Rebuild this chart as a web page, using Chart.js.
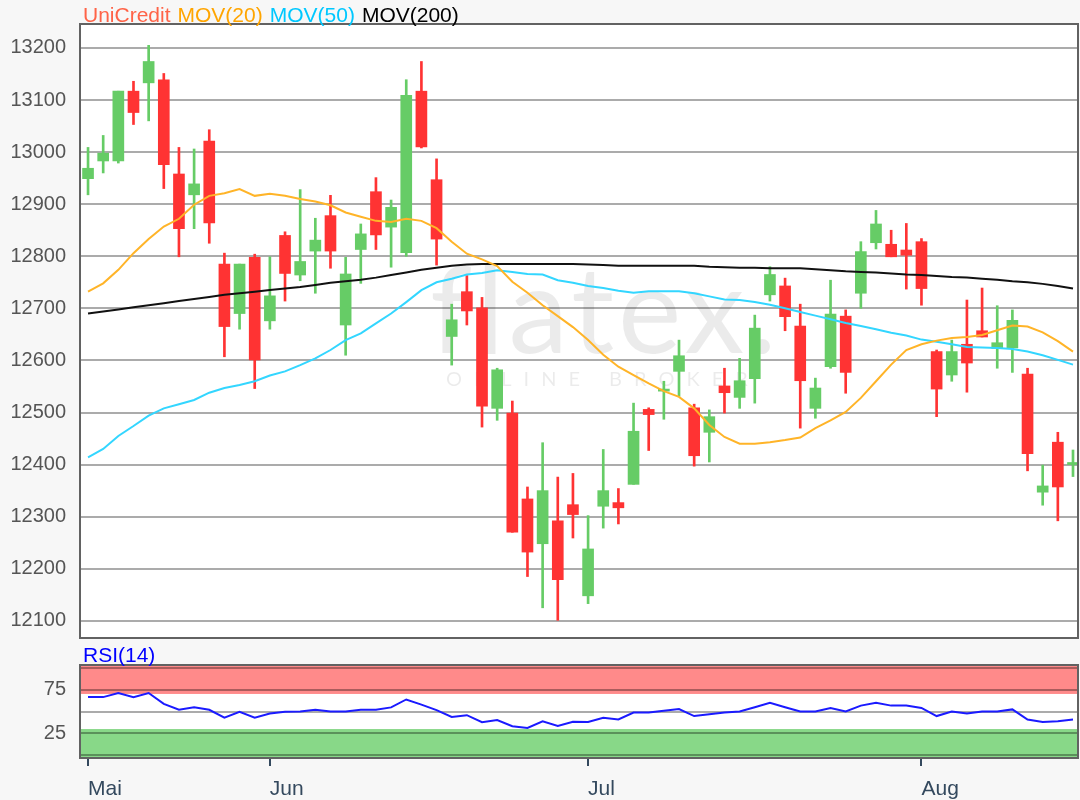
<!DOCTYPE html>
<html>
<head>
<meta charset="utf-8">
<script src="https://cdn.jsdelivr.net/npm/chart.js@4.4.0/dist/chart.umd.min.js"></script>
<style>
html,body{margin:0;padding:0;background:#f7f7f7;}
#wrap{position:relative;width:1080px;height:800px;overflow:hidden;font-family:"Liberation Sans",Arial,sans-serif;}
canvas{position:absolute;left:0;}
#c1{top:0;}
#c2{top:640px;}
.lbl{position:absolute;font-size:21px;line-height:21px;white-space:nowrap;display:flex;gap:7px;}
</style>
</head>
<body>
<div id="wrap">
<canvas id="c1" width="1080" height="640"></canvas>
<canvas id="c2" width="1080" height="160"></canvas>
<div class="lbl" style="left:83px;top:4px;">
  <span style="color:#ff6347">UniCredit</span>
  <span style="color:#ffa500">MOV(20)</span>
  <span style="color:#00c8ff">MOV(50)</span>
  <span style="color:#000000">MOV(200)</span>
</div>
<div class="lbl" style="left:83px;top:644px;color:#0000ff;">RSI(14)</div>
</div>
<script>
// ---------- DATA ----------
const dates = [
 '16.05.','17.05.','18.05.','21.05.','22.05.','23.05.','24.05.','25.05.','28.05.','29.05.','30.05.','31.05.',
 '01.06.','04.06.','05.06.','06.06.','07.06.','08.06.','11.06.','12.06.','13.06.','14.06.','15.06.','18.06.',
 '19.06.','20.06.','21.06.','22.06.','25.06.','26.06.','27.06.','28.06.','29.06.',
 '02.07.','03.07.','04.07.','05.07.','06.07.','09.07.','10.07.','11.07.','12.07.','13.07.','16.07.','17.07.',
 '18.07.','19.07.','20.07.','23.07.','24.07.','25.07.','26.07.','27.07.','30.07.','31.07.',
 '01.08.','02.08.','03.08.','06.08.','07.08.','08.08.','09.08.','10.08.','13.08.','14.08.','15.08.'
];
const monthLabels = ['Mai','Jun','Jul','Aug'];

const open = [12949,12983,12983,13117,13133,13139,12958,12918,13021,12785,
12690,12798,12676,12840,12764,12810,12878,12668,12813,12924,
12856,12807,13117,12947,12646,12732,12701,12508,12499,12334,
12248,12292,12323,12148,12320,12327,12362,12506,12541,12579,
12509,12462,12551,12529,12565,12726,12743,12666,12508,12588,
12685,12729,12826,12823,12812,12828,12617,12572,12631,12657,
12623,12624,12574,12347,12443,12400];
const high = [13009,13032,13117,13136,13205,13151,13009,13006,13043,12806,
12785,12804,12799,12847,12928,12873,12917,12798,12862,12951,
12908,13139,13174,12987,12708,12763,12721,12585,12522,12357,
12442,12376,12383,12302,12429,12354,12518,12509,12560,12639,
12516,12505,12585,12604,12687,12780,12758,12708,12566,12754,
12697,12828,12888,12850,12863,12834,12620,12639,12716,12739,
12705,12697,12585,12399,12462,12428];
const low = [12918,12960,12979,13053,13060,12930,12799,12853,12825,12607,
12660,12546,12660,12714,12753,12729,12777,12610,12748,12813,
12779,12800,13008,12783,12591,12668,12472,12485,12270,12185,
12125,12101,12259,12133,12278,12286,12362,12427,12487,12531,
12397,12405,12499,12508,12518,12714,12657,12470,12489,12585,
12537,12700,12814,12799,12737,12706,12492,12560,12539,12645,
12585,12577,12388,12322,12292,12377];
const close = [12969,12998,13117,13076,13174,12976,12853,12939,12864,12665,
12785,12601,12724,12767,12790,12831,12810,12766,12843,12841,
12894,13109,13010,12833,12678,12695,12512,12582,12270,12232,
12350,12179,12304,12238,12350,12317,12464,12496,12545,12609,
12417,12492,12538,12561,12662,12765,12684,12561,12547,12689,
12577,12809,12862,12799,12802,12738,12545,12617,12595,12645,
12634,12677,12421,12359,12357,12404];

const mov20 = [12732,12748,12774,12806,12833,12857,12872,12899,12916,12921,
12929,12916,12920,12916,12910,12905,12898,12884,12876,12868,
12866,12872,12868,12854,12828,12805,12794,12781,12751,12730,
12706,12685,12664,12639,12611,12588,12572,12556,12541,12530,
12508,12476,12453,12440,12440,12443,12447,12452,12470,12485,
12501,12528,12560,12592,12620,12631,12638,12643,12645,12649,
12658,12667,12665,12654,12637,12617];
const mov50 = [12414,12430,12455,12474,12494,12508,12516,12524,12538,12547,
12553,12560,12571,12579,12591,12604,12620,12639,12652,12671,
12690,12712,12735,12750,12757,12765,12768,12773,12770,12766,
12765,12754,12749,12743,12739,12734,12730,12733,12733,12733,
12729,12723,12717,12716,12712,12707,12700,12693,12686,12679,
12672,12666,12660,12653,12648,12640,12636,12631,12626,12625,
12624,12622,12617,12610,12601,12592];
const mov200 = [12690,12694,12698,12702,12706,12710,12714,12718,12722,12726,
12729,12732,12735,12738,12741,12745,12749,12752,12755,12759,
12764,12769,12774,12778,12782,12784,12785,12785,12785,12785,
12785,12785,12785,12784,12783,12782,12782,12782,12782,12782,
12782,12780,12779,12778,12778,12777,12777,12777,12775,12773,
12771,12770,12769,12767,12765,12764,12762,12760,12759,12757,
12755,12752,12750,12747,12743,12738];

const rsi14 = [66.4,66.4,71.1,66.4,71.1,58.7,52.0,54.7,52.0,43.0,
49.6,43.0,47.7,49.6,50.0,52.0,50.0,50.0,52.0,52.0,
54.7,63.7,57.9,51.6,43.8,45.8,37.9,40.3,33.2,31.2,
38.8,33.5,38.2,38.1,42.9,40.9,48.8,48.8,50.8,52.8,
44.8,46.8,48.8,50.0,54.8,59.9,54.8,50.0,50.0,54.0,
50.0,56.7,59.9,56.7,56.7,54.0,44.8,50.0,47.6,50.0,
50.0,52.4,40.9,38.1,38.9,40.9];

const priceTicks = [12100,12200,12300,12400,12500,12600,12700,12800,12900,13000,13100,13200];
const rsiGridTicks = [0,25,50,75,100];
const rsiLabelTicks = [25,75];
const rsiOverbought = 70;
const rsiOversold = 30;

// ---------- derived ----------
const monthStarts = [];
dates.forEach((d,i)=>{ if(i===0 || d.slice(3,5)!==dates[i-1].slice(3,5)) monthStarts.push(i); });
const monthOfTick = {};
monthStarts.forEach((idx,k)=>{ monthOfTick[idx]=monthLabels[k]; });

const UP='#66cc66', DOWN='#ff3333';
const candleColors = close.map((c,i)=> c>=open[i] ? UP : DOWN);
const xy = arr => arr.map((v,i)=>({x:i, y:v}));

const FONT = {family:'"Liberation Sans", Arial, sans-serif', size:21};
const YFONT = {family:'"Liberation Sans", Arial, sans-serif', size:20};
const GRID = 'rgba(0,0,0,0.33)';
const X_MIN = -0.53, X_MAX = 65.33;

const fitY = s => { s.width = 80; s.paddingTop = 0; s.paddingBottom = 0; };

const plotBg = {
  id:'plotBg',
  beforeDraw(chart, args, opts){
    const {ctx, chartArea:a} = chart;
    ctx.save();
    ctx.fillStyle = '#ffffff';
    ctx.fillRect(a.left, a.top, a.right-a.left, a.bottom-a.top);
    if (opts.bands){
      const y = chart.scales.y;
      ctx.fillStyle = '#ff8a8a';
      const yo = y.getPixelForValue(rsiOverbought);
      ctx.fillRect(a.left, a.top, a.right-a.left, yo-a.top);
      ctx.fillStyle = '#88d888';
      const yu = y.getPixelForValue(rsiOversold);
      ctx.fillRect(a.left, yu, a.right-a.left, a.bottom-yu);
    }
    if (opts.watermark){
      ctx.fillStyle = 'rgba(0,0,0,0.08)';
      ctx.font = '120px Lato, "Open Sans", sans-serif';
      ctx.textBaseline = 'alphabetic';
      ctx.textAlign = 'left';
      try { ctx.letterSpacing = '4px'; } catch(e){}
      ctx.fillText('flatex.', 430, 353);
      ctx.font = '20px Lato, "Open Sans", sans-serif';
      ctx.fillStyle = 'rgba(0,0,0,0.08)';
      try { ctx.letterSpacing = '12px'; } catch(e){}
      ctx.fillText('ONLINE BROKER', 446, 386);
      try { ctx.letterSpacing = '0px'; } catch(e){}
    }
    ctx.restore();
  },
  afterDraw(chart){
    const {ctx, chartArea:a} = chart;
    ctx.save();
    ctx.strokeStyle = '#626262';
    ctx.lineWidth = 2;
    ctx.strokeRect(a.left, a.top, a.right-a.left, a.bottom-a.top);
    ctx.restore();
  }
};

// ---------- main chart ----------
new Chart(document.getElementById('c1'), {
  type:'bar',
  data:{
    datasets:[
      {type:'line', label:'MOV(20)', data:xy(mov20), borderColor:'#ffb428', borderWidth:2, pointRadius:0, tension:0, order:0},
      {type:'line', label:'MOV(50)', data:xy(mov50), borderColor:'#33d6ff', borderWidth:2, pointRadius:0, tension:0, order:0},
      {type:'line', label:'MOV(200)', data:xy(mov200), borderColor:'#111111', borderWidth:2, pointRadius:0, tension:0, order:0},
      {label:'UniCredit', data:open.map((o,i)=>({x:i, y:[o, close[i]]})), backgroundColor:candleColors, barThickness:11, grouped:false, order:2},
      {label:'UniCredit range', data:low.map((l,i)=>({x:i, y:[l, high[i]]})), backgroundColor:candleColors, barThickness:2, grouped:false, order:3}
    ]
  },
  options:{
    responsive:false, animation:false, events:[],
    layout:{padding:{top:24, right:2, bottom:2, left:0}},
    plugins:{legend:{display:false}, tooltip:{enabled:false}, plotBg:{watermark:true}},
    scales:{
      x:{type:'linear', min:X_MIN, max:X_MAX, bounds:'data', offset:false, display:false},
      y:{type:'linear', min:12067, max:13246, bounds:'data',
         afterBuildTicks:s=>{ s.ticks = priceTicks.map(v=>({value:v})); },
         afterFit:fitY,
         grid:{color:GRID, lineWidth:2, drawTicks:false},
         border:{display:false},
         ticks:{padding:14, color:'#555555', font:YFONT, autoSkip:false, callback:v=>String(v)}}
    }
  },
  plugins:[plotBg]
});

// ---------- RSI chart ----------
new Chart(document.getElementById('c2'), {
  type:'line',
  data:{ datasets:[
    {label:'RSI(14)', data:xy(rsi14), borderColor:'#1a1aff', borderWidth:2, pointRadius:0, tension:0}
  ]},
  options:{
    responsive:false, animation:false, events:[],
    layout:{padding:{top:25, right:2, bottom:0, left:0}},
    plugins:{legend:{display:false}, tooltip:{enabled:false}, plotBg:{bands:true}},
    scales:{
      x:{type:'linear', min:X_MIN, max:X_MAX, bounds:'data', offset:false, position:'bottom',
         afterBuildTicks:s=>{ s.ticks = monthStarts.map(v=>({value:v})); },
         afterFit:s=>{ s.height = 42; s.paddingLeft = 0; s.paddingRight = 0; },
         grid:{drawOnChartArea:false, drawTicks:true, tickLength:8, color:'#34495e', lineWidth:2},
         border:{display:false},
         ticks:{align:'start', padding:11, color:'#34495e', font:FONT, autoSkip:false, maxRotation:0,
                callback:v=> monthOfTick[v] || ''}},
      y:{type:'linear', min:-3, max:103, bounds:'data',
         afterBuildTicks:s=>{ s.ticks = rsiGridTicks.map(v=>({value:v})); },
         afterFit:fitY,
         grid:{color:GRID, lineWidth:2, drawTicks:false},
         border:{display:false},
         ticks:{padding:14, color:'#555555', font:YFONT, autoSkip:false,
                callback:v=> rsiLabelTicks.includes(v) ? String(v) : ''}}
    }
  },
  plugins:[plotBg]
});
</script>
</body>
</html>
